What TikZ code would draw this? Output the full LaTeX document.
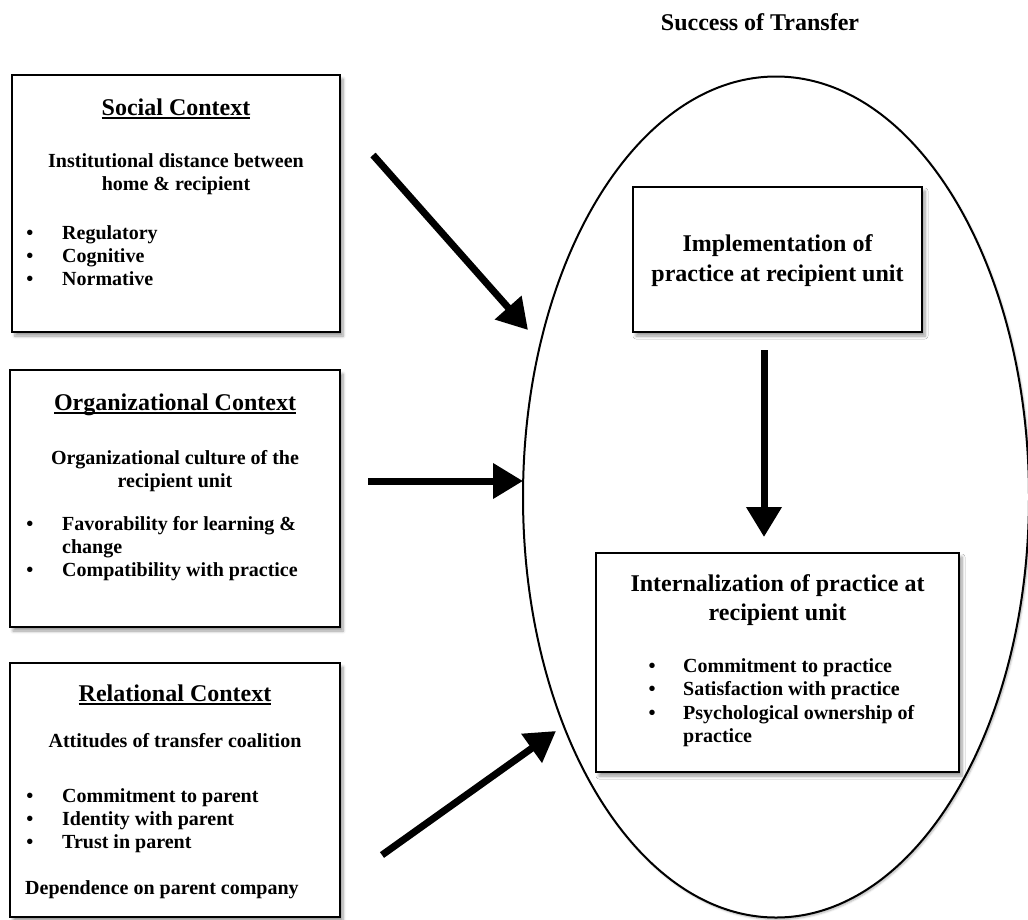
\documentclass[tikz,border=0pt]{standalone}
\usepackage{fontspec}
\setmainfont{Liberation Serif}
\usetikzlibrary{arrows.meta,shapes.geometric,shadows.blur}

% underlined heading with a fixed rule under the baseline
\newcommand\headrule[1]{\setbox0=\hbox{#1}\rlap{\rule[-3.5pt]{\wd0}{1.6pt}}\box0}

\tikzset{
  softshadow/.style={blur shadow={shadow xshift=3pt, shadow yshift=-4pt,
      shadow blur radius=3pt, shadow blur steps=6, shadow opacity=40}},
  ctxbox/.style={draw, line width=2.6pt, fill=white, inner sep=0pt, softshadow},
  ring/.style={draw, ellipse, line width=2pt, fill=white, inner sep=0pt,
      blur shadow={shadow xshift=1.5pt, shadow yshift=-2pt, shadow blur radius=2pt,
      shadow blur steps=5, shadow opacity=30}},
  heading/.style={font=\bfseries\fontsize{24}{28}\selectfont, anchor=base, inner sep=0pt},
  body/.style={font=\bfseries\fontsize{20}{23}\selectfont, anchor=base, inner sep=0pt},
  bodyl/.style={body, anchor=base west},
  flow/.style={line width=7pt, -{Triangle[length=30pt,width=34pt]},
      preaction={draw=black!40, opacity=0.35, transform canvas={shift={(2pt,-2.5pt)}}}},
}

\begin{document}
\begin{tikzpicture}[x=1pt, y=-1pt]
\useasboundingbox (0,0) rectangle (1028,919);

% outcome region
\node[ring, minimum width=506pt, minimum height=841pt] (success) at (776,497) {};
\node[heading] (succtitle) at (760,30) {Success of Transfer};

% context boxes on the left
\node[ctxbox, minimum width=328pt, minimum height=257pt] (social) at (176,203.5) {};
\node[heading] (socialT) at (176,115) {\headrule{Social Context}};
\node[body] (social1) at (176,167) {Institutional distance between};
\node[body] (social2) at (176,190) {home \& recipient};
\node[body] (sb1) at (30,239) {•};
\node[bodyl] (st1) at (62,239) {Regulatory};
\node[body] (sb2) at (30,262) {•};
\node[bodyl] (st2) at (62,262) {Cognitive};
\node[body] (sb3) at (30,285) {•};
\node[bodyl] (st3) at (62,285) {Normative};

\node[ctxbox, minimum width=330pt, minimum height=257pt] (org) at (175,498.5) {};
\node[heading] (orgT) at (175,410) {\headrule{Organizational Context}};
\node[body] (org1) at (175,464) {Organizational culture of the};
\node[body] (org2) at (175,487) {recipient unit};
\node[body] (ob1) at (30,530) {•};
\node[bodyl] (ot1) at (62,530) {Favorability for learning \&};
\node[bodyl] (ot1b) at (62,553) {change};
\node[body] (ob2) at (30,576) {•};
\node[bodyl] (ot2) at (62,576) {Compatibility with practice};

\node[ctxbox, minimum width=330pt, minimum height=254pt] (rel) at (175,790) {};
\node[heading] (relT) at (175,701) {\headrule{Relational Context}};
\node[body] (rel1) at (175,747) {Attitudes of transfer coalition};
\node[body] (rb1) at (30,802) {•};
\node[bodyl] (rt1) at (62,802) {Commitment to parent};
\node[body] (rb2) at (30,825) {•};
\node[bodyl] (rt2) at (62,825) {Identity with parent};
\node[body] (rb3) at (30,848) {•};
\node[bodyl] (rt3) at (62,848) {Trust in parent};
\node[bodyl] (rel2) at (25,894) {Dependence on parent company};

% stages inside the outcome region
\node[ctxbox, minimum width=289pt, minimum height=145pt] (impl) at (777.5,259.5) {};
\node[heading] (impl1) at (777.5,251) {Implementation of};
\node[heading] (impl2) at (777.5,281) {practice at recipient unit};

\node[ctxbox, minimum width=363pt, minimum height=219pt] (intern) at (777.5,662.5) {};
\node[heading] (int1) at (777.5,591) {Internalization of practice at};
\node[heading] (int2) at (777.5,620) {recipient unit};
\node[body] (ib1) at (652,672) {•};
\node[bodyl] (it1) at (683,672) {Commitment to practice};
\node[body] (ib2) at (652,695) {•};
\node[bodyl] (it2) at (683,695) {Satisfaction with practice};
\node[body] (ib3) at (652,719) {•};
\node[bodyl] (it3) at (683,719) {Psychological ownership of};
\node[bodyl] (it3b) at (683,742) {practice};

% arrow ends
\coordinate (socialOut) at (373,155);
\coordinate (socialIn) at (528,330);
\coordinate (orgOut) at (368,481);
\coordinate (orgIn) at (523,481);
\coordinate (relOut) at (382,855);
\coordinate (relIn) at (556,731);
\coordinate (implOut) at (764,350);
\coordinate (internIn) at (764,537);

\draw[flow] (socialOut) -- (socialIn);
\draw[flow] (orgOut) -- (orgIn);
\draw[flow] (relOut) -- (relIn);
\draw[flow] (implOut) -- (internIn);
\end{tikzpicture}
\end{document}
